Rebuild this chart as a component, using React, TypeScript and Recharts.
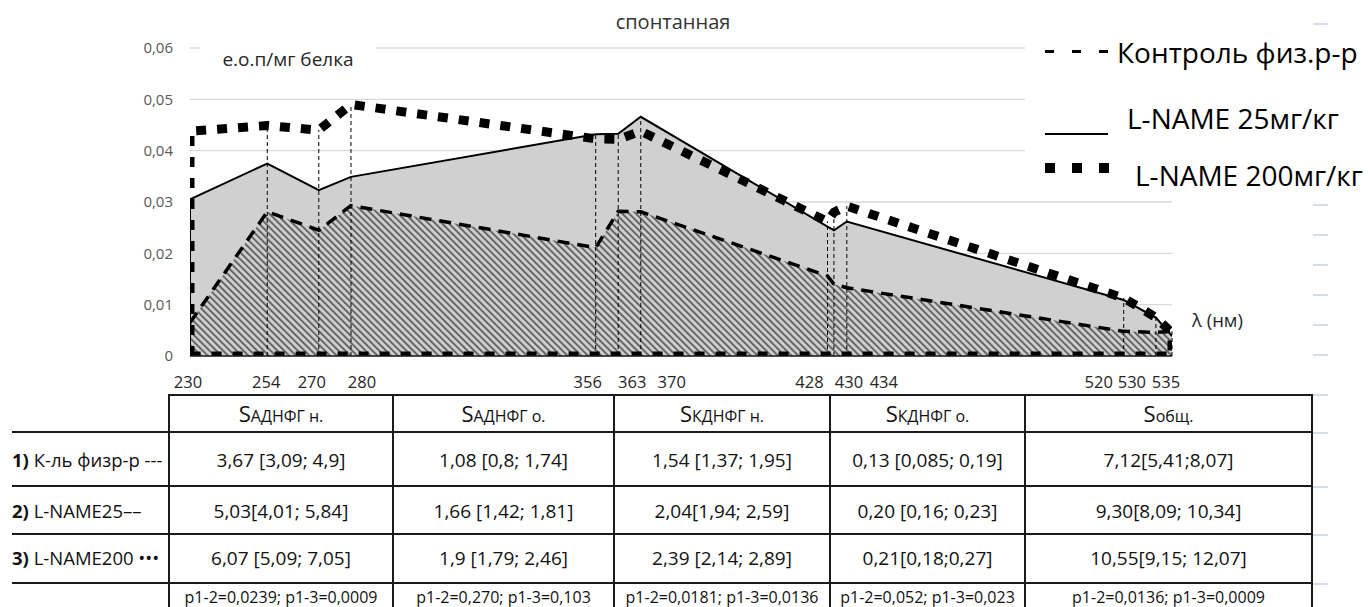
import {
  ComposedChart,
  Area,
  Line,
  XAxis,
  YAxis,
  CartesianGrid,
  ReferenceLine,
} from 'recharts';

// wavelengths, nm
const wavelengths = [230, 254, 270, 280, 356, 363, 370, 428, 430, 434, 520, 530, 535];
// е.о.п/мг белка
const controlValues = [0.0065, 0.0281, 0.0245, 0.0293, 0.0211, 0.0282, 0.0281, 0.0156, 0.014, 0.0133, 0.0048, 0.0046, 0.0048];
const lname25Values = [0.0305, 0.0375, 0.0323, 0.0349, 0.0432, 0.0433, 0.0466, 0.0252, 0.0245, 0.0262, 0.0109, 0.0075, 0.0039];
const lname200Values = [0.0438, 0.0449, 0.044, 0.049, 0.0423, 0.0422, 0.0438, 0.0262, 0.028, 0.0292, 0.0113, 0.0075, 0.0045];
const yTicks = [0, 0.01, 0.02, 0.03, 0.04, 0.05, 0.06];

const seriesNames = ['Контроль физ.р-р', 'L-NAME 25мг/кг', 'L-NAME 200мг/кг'];

const tableHeaders = [
  { big: 'S', small: 'АДНФГ н.' },
  { big: 'S', small: 'АДНФГ о.' },
  { big: 'S', small: 'КДНФГ н.' },
  { big: 'S', small: 'КДНФГ о.' },
  { big: 'S ', small: 'общ.' },
];
const rowLabels = [
  { num: '1)', text: ' К-ль физр-р ---' },
  { num: '2)', text: ' L-NAME25––' },
  { num: '3)', text: ' L-NAME200 •••' },
];
const tableRows = [
  ['3,67 [3,09; 4,9]', '1,08 [0,8; 1,74]', '1,54 [1,37; 1,95]', '0,13 [0,085; 0,19]', '7,12[5,41;8,07]'],
  ['5,03[4,01; 5,84]', '1,66 [1,42; 1,81]', '2,04[1,94; 2,59]', '0,20 [0,16; 0,23]', '9,30[8,09; 10,34]'],
  ['6,07 [5,09; 7,05]', '1,9 [1,79; 2,46]', '2,39 [2,14; 2,89]', '0,21[0,18;0,27]', '10,55[9,15; 12,07]'],
];
const pValues = [
  'p1-2=0,0239; p1-3=0,0009',
  'p1-2=0,270; p1-3=0,103',
  'p1-2=0,0181; p1-3=0,0136',
  'p1-2=0,052; p1-3=0,023',
  'p1-2=0,0136; p1-3=0,0009',
];

const FONT = "'Open Sans', sans-serif";

// labels were shifted by hand in the original to avoid overlapping
const tickNudge: Record<number, number> = {
  230: -2, 254: -1, 270: -7, 280: 11, 356: -8, 363: 14, 370: 31,
  428: -18, 430: 15, 434: 37, 520: -25, 530: -24, 535: -6,
};

const chartData = wavelengths.map((x, i) => ({
  x,
  control: controlValues[i],
  lname25: lname25Values[i],
}));

const lname25Outline = [
  { x: wavelengths[0], y: 0 },
  ...wavelengths.map((x, i) => ({ x, y: lname25Values[i] })),
];

const lname200Outline = [
  { x: wavelengths[0], y: 0 },
  ...wavelengths.map((x, i) => ({ x, y: lname200Values[i] })),
  { x: wavelengths[wavelengths.length - 1], y: 0 },
  { x: wavelengths[0], y: 0 },
];

const dropTops = wavelengths.map((x, i) => ({
  x,
  top: Math.max(controlValues[i], lname25Values[i], lname200Values[i]),
}));

const colEdges = [169, 393, 614, 830, 1025, 1312];
const rowEdges = [394, 432, 486, 534, 583];
const rowCenters = [460, 511, 558];
const stubYs = [23, 204, 234, 264, 294, 324, 354, 394, 432, 486, 534, 583];
const legendMarkX = [1045, 1072, 1099];

const XTick = ({ x, y, payload }: any) => (
  <text
    x={x + (tickNudge[payload.value] ?? 0)}
    y={y}
    dy="0.71em"
    textAnchor="middle"
    fill="#262626"
    fontSize={16.5}
    fontFamily={FONT}
  >
    {payload.value}
  </text>
);

const abs = (style: React.CSSProperties): React.CSSProperties => ({ position: 'absolute', ...style });

export default function App() {
  return (
    <div style={{ position: 'absolute', left: 0, top: 0, width: 1368, height: 607, background: '#fff', overflow: 'hidden', fontFamily: FONT }}>
      <div style={abs({ left: 0, top: 0 })}>
        <ComposedChart
          width={1368}
          height={394}
          data={chartData}
          margin={{ top: 48, right: 196, bottom: 0, left: 0 }}
        >
          <defs>
            <pattern id="hatch" patternUnits="userSpaceOnUse" width="4.8" height="4.8" patternTransform="rotate(-45)">
              <rect width="4.8" height="4.8" fill="#d0d0d0" />
              <line x1="1" y1="0" x2="1" y2="4.8" stroke="#666" strokeWidth="2" />
            </pattern>
          </defs>
          <CartesianGrid vertical={false} stroke="#d9d9d9" strokeWidth={1.3} />
          <XAxis
            dataKey="x"
            type="number"
            domain={[230, 535]}
            ticks={wavelengths}
            interval={0}
            allowDataOverflow
            height={38}
            tickSize={0}
            tickMargin={20}
            axisLine={{ stroke: '#1a1a1a', strokeWidth: 1.5 }}
            tick={<XTick />}
          />
          <YAxis
            type="number"
            domain={[0, 0.06]}
            ticks={yTicks}
            allowDataOverflow
            width={190}
            tickSize={0}
            tickMargin={17}
            axisLine={false}
            tick={{ fontSize: 15, fill: '#595959', fontFamily: FONT }}
            tickFormatter={(v: number) => (v === 0 ? '0' : v.toFixed(2).replace('.', ','))}
          />
          <Area
            dataKey="lname25"
            type="linear"
            fill="#d0d0d0"
            fillOpacity={1}
            stroke="none"
            isAnimationActive={false}
          />
          <Area
            dataKey="control"
            name={seriesNames[0]}
            type="linear"
            fill="url(#hatch)"
            fillOpacity={1}
            stroke="#000"
            strokeWidth={3.5}
            strokeDasharray="12 8"
            isAnimationActive={false}
          />
          {dropTops.slice(1).map(d => (
            <ReferenceLine
              key={d.x}
              segment={[{ x: d.x, y: 0 }, { x: d.x, y: d.top }]}
              stroke="#000"
              strokeWidth={1}
              strokeDasharray="4 3"
            />
          ))}
          <Line
            data={lname25Outline}
            dataKey="y"
            name={seriesNames[1]}
            type="linear"
            stroke="#000"
            strokeWidth={2}
            dot={false}
            isAnimationActive={false}
          />
          <Line
            data={lname200Outline}
            dataKey="y"
            name={seriesNames[2]}
            type="linear"
            stroke="#000"
            strokeWidth={9}
            strokeDasharray="10 11"
            dot={false}
            isAnimationActive={false}
          />
        </ComposedChart>
      </div>

      {/* title and axis captions */}
      <div style={abs({ left: 573, top: 8, width: 200, textAlign: 'center', fontSize: 20, color: '#333', lineHeight: '28px' })}>
        спонтанная
      </div>
      <div style={abs({ left: 200, top: 42, width: 176, height: 34, background: '#fff', textAlign: 'center', fontSize: 19, color: '#262626', lineHeight: '34px' })}>
        е.о.п/мг белка
      </div>
      <div style={abs({ left: 1192, top: 306, fontSize: 18.5, color: '#1f1f1f', lineHeight: '28px', whiteSpace: 'nowrap' })}>
        λ (нм)
      </div>

      {/* legend */}
      <div style={abs({ left: 1025, top: 30, width: 343, height: 160, background: '#fff' })} />
      {legendMarkX.map(x => (
        <div key={`d${x}`} style={abs({ left: x, top: 50, width: 9, height: 3, background: '#000' })} />
      ))}
      <div style={abs({ left: 1117, top: 32, fontSize: 28, color: '#000', lineHeight: '40px', whiteSpace: 'nowrap' })}>
        {seriesNames[0]}
      </div>
      <div style={abs({ left: 1045, top: 133, width: 63, height: 2, background: '#000' })} />
      <div style={abs({ left: 1127, top: 98, fontSize: 28, color: '#000', lineHeight: '40px', whiteSpace: 'nowrap' })}>
        {seriesNames[1]}
      </div>
      {legendMarkX.map(x => (
        <div key={`s${x}`} style={abs({ left: x, top: 163, width: 10, height: 10, background: '#000' })} />
      ))}
      <div style={abs({ left: 1135, top: 155, fontSize: 28, color: '#000', lineHeight: '40px', whiteSpace: 'nowrap' })}>
        {seriesNames[2]}
      </div>

      {/* faint leftover marks at the right edge */}
      {stubYs.map(y => (
        <div key={y} style={abs({ left: 1313, top: y, width: 15, height: 1.5, background: '#d6dde8' })} />
      ))}

      {/* table */}
      <div style={abs({ left: colEdges[0], top: rowEdges[0], width: colEdges[colEdges.length - 1] - colEdges[0], height: 2, background: '#1a1a1a' })} />
      {rowEdges.slice(1).map(y => (
        <div key={y} style={abs({ left: 12, top: y - 1, width: colEdges[colEdges.length - 1] - 12, height: 2, background: '#1a1a1a' })} />
      ))}
      {colEdges.map(x => (
        <div key={x} style={abs({ left: x - 1, top: rowEdges[0], width: 2, height: 607 - rowEdges[0], background: '#1a1a1a' })} />
      ))}
      {tableHeaders.map((h, i) => (
        <div key={i} style={abs({ left: colEdges[i], top: rowEdges[0], width: colEdges[i + 1] - colEdges[i], height: rowEdges[1] - rowEdges[0], display: 'flex', alignItems: 'baseline', justifyContent: 'center', lineHeight: '38px', color: '#111', whiteSpace: 'nowrap' })}>
          <span style={{ fontSize: 22 }}>{h.big}</span>
          <span style={{ fontSize: 16 }}>{h.small}</span>
        </div>
      ))}
      {rowLabels.map((r, j) => (
        <div key={j} style={abs({ left: 12, top: rowCenters[j] - 14, height: 28, lineHeight: '28px', fontSize: 18.5, color: '#111', whiteSpace: 'nowrap' })}>
          <b>{r.num}</b>{r.text}
        </div>
      ))}
      {tableRows.map((row, j) =>
        row.map((cell, i) => (
          <div key={`${j}-${i}`} style={abs({ left: colEdges[i], top: rowCenters[j] - 14, width: colEdges[i + 1] - colEdges[i], height: 28, lineHeight: '28px', textAlign: 'center', fontSize: 19, color: '#111', whiteSpace: 'nowrap' })}>
            {cell}
          </div>
        ))
      )}
      {pValues.map((p, i) => (
        <div key={i} style={abs({ left: colEdges[i], top: 583, width: colEdges[i + 1] - colEdges[i], height: 28, lineHeight: '28px', textAlign: 'center', fontSize: 16, color: '#111', whiteSpace: 'nowrap' })}>
          {p}
        </div>
      ))}
    </div>
  );
}
